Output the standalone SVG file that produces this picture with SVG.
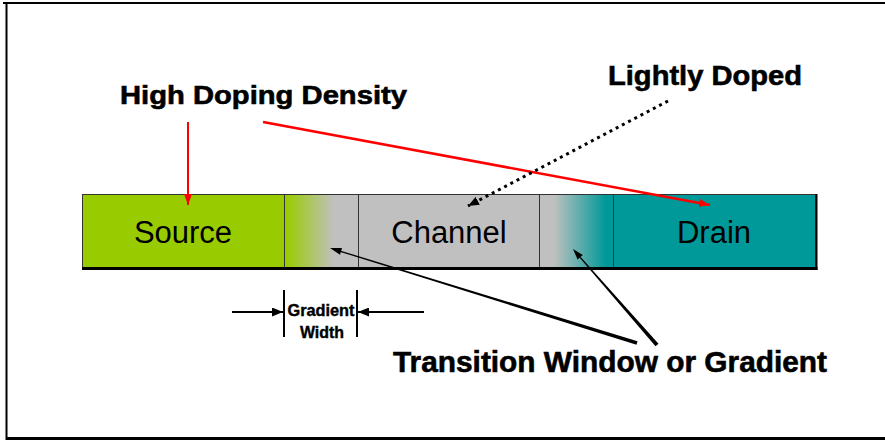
<svg xmlns="http://www.w3.org/2000/svg" width="885" height="442" viewBox="0 0 885 442">
<style>
.lbl{font-family:"Liberation Sans",Arial,sans-serif;font-weight:bold;fill:#000;stroke:#000;stroke-width:0.6}
.reg{font-family:"Liberation Sans",Arial,sans-serif;font-size:31px;fill:#000;text-anchor:middle}
.div{stroke:#333;stroke-width:1}
</style>
<defs>
<linearGradient id="g1" x1="0" y1="0" x2="1" y2="0">
<stop offset="0.03" stop-color="#99CC00"/>
<stop offset="0.68" stop-color="#C0C0C0"/>
</linearGradient>
<linearGradient id="g2" x1="0" y1="0" x2="1" y2="0">
<stop offset="0.2" stop-color="#C0C0C0"/>
<stop offset="0.9" stop-color="#009999"/>
</linearGradient>
<marker id="redHead" markerUnits="userSpaceOnUse" markerWidth="12" markerHeight="8" refX="11" refY="4" orient="auto">
<path d="M0,0 L11,4 L0,8 z" fill="#FF0000"/>
</marker>
<marker id="blkHead" markerUnits="userSpaceOnUse" markerWidth="12" markerHeight="9" refX="11" refY="4.5" orient="auto">
<path d="M0,0 L11,4.5 L0,9 z" fill="#000"/>
</marker>
</defs>
<rect width="885" height="442" fill="#fff"/>
<g id="frame">
<line x1="3" y1="3" x2="885" y2="3" stroke="#000" stroke-width="2"/>
<line x1="6.5" y1="3" x2="6.5" y2="440" stroke="#000" stroke-width="2"/>
<line x1="6" y1="438.5" x2="885" y2="438.5" stroke="#000" stroke-width="3"/>
</g>
<g id="source">
<rect x="82" y="194" width="202" height="73" fill="#99CC00"/>
<text class="reg" x="183" y="243">Source</text>
</g>
<g id="gradient1">
<rect x="284" y="194" width="74" height="73" fill="url(#g1)"/>
</g>
<g id="channel">
<rect x="358" y="194" width="181" height="73" fill="#C0C0C0"/>
<text class="reg" x="449" y="243">Channel</text>
</g>
<g id="gradient2">
<rect x="539" y="194" width="74" height="73" fill="url(#g2)"/>
</g>
<g id="drain">
<rect x="613" y="194" width="203" height="73" fill="#009999"/>
<text class="reg" x="714" y="243">Drain</text>
</g>
<g id="bar-outline">
<rect x="82.5" y="194.5" width="733" height="73" fill="none" stroke="#333" stroke-width="1"/>
<line class="div" x1="284.5" y1="194" x2="284.5" y2="267"/>
<line class="div" x1="358.5" y1="194" x2="358.5" y2="267"/>
<line class="div" x1="539.5" y1="194" x2="539.5" y2="267"/>
<line class="div" x1="613.5" y1="194" x2="613.5" y2="267"/>
<line x1="82" y1="268.5" x2="817.5" y2="268.5" stroke="#000" stroke-width="3"/>
<line x1="816.5" y1="194" x2="816.5" y2="270" stroke="#000" stroke-width="2"/>
</g>
<g id="label-high">
<text class="lbl" x="120" y="104" font-size="26" textLength="287" lengthAdjust="spacingAndGlyphs">High Doping Density</text>
</g>
<g id="label-light">
<text class="lbl" x="608" y="85" font-size="28" textLength="194" lengthAdjust="spacingAndGlyphs">Lightly Doped</text>
</g>
<g id="label-transition">
<text class="lbl" x="393" y="372" font-size="30" textLength="434" lengthAdjust="spacingAndGlyphs">Transition Window or Gradient</text>
</g>
<g id="label-gradient-width">
<text class="lbl" x="321" y="316" font-size="16" text-anchor="middle" textLength="67" lengthAdjust="spacingAndGlyphs" style="stroke-width:0.4">Gradient</text>
<text class="lbl" x="322" y="338" font-size="16" text-anchor="middle" textLength="44" lengthAdjust="spacingAndGlyphs" style="stroke-width:0.4">Width</text>
</g>
<g id="connectors">
<line x1="188" y1="122" x2="188" y2="205" stroke="#FF0000" stroke-width="2" marker-end="url(#redHead)"/>
<line x1="263" y1="122" x2="710" y2="205" stroke="#FF0000" stroke-width="2.5" marker-end="url(#redHead)"/>
<line x1="668" y1="101" x2="468" y2="206" stroke="#000" stroke-width="3" stroke-dasharray="3 4" marker-end="url(#blkHead)"/>
<polygon points="340.7,250.7 637.5,341.3 636.5,344.7 340.3,251.9" fill="#000"/>
<polygon points="330,248 342,248 340,254.7" fill="#000"/>
<polygon points="580.7,256.9 658.5,343.7 655.5,346.3 579.7,257.7" fill="#000"/>
<polygon points="573,249 582.8,255 577.6,259.6" fill="#000"/>
<line x1="284" y1="290" x2="284" y2="337" stroke="#000" stroke-width="2"/>
<line x1="357" y1="290" x2="357" y2="337" stroke="#000" stroke-width="2"/>
<line x1="232" y1="312" x2="283" y2="312" stroke="#000" stroke-width="2" marker-end="url(#blkHead)"/>
<line x1="424" y1="312" x2="358" y2="312" stroke="#000" stroke-width="2" marker-end="url(#blkHead)"/>
</g>
</svg>
